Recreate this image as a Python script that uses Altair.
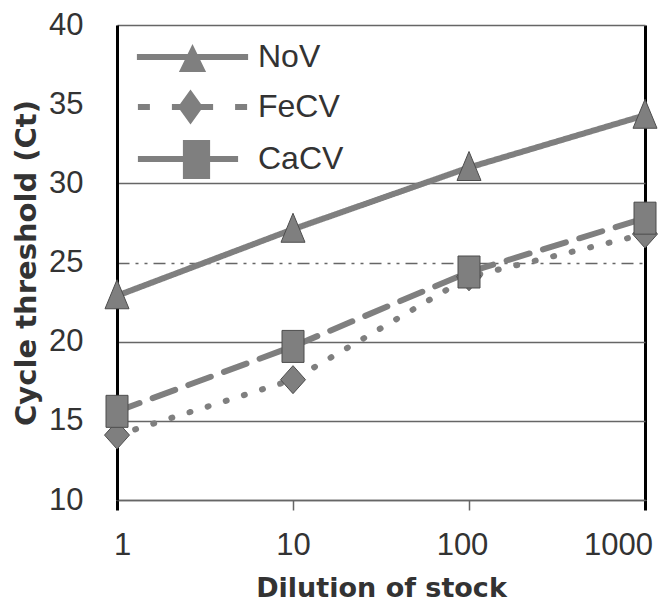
import altair as alt
import pandas as pd

# ---- data ----
dilution = [1, 10, 100, 1000]
series_names = ["NoV", "FeCV", "CaCV"]
nov = [22.9, 27.1, 31.0, 34.3]
fecv = [14.1, 17.6, 24.1, 26.8]
cacv = [15.6, 19.7, 24.4, 27.8]
x_ticks = [1, 10, 100, 1000]
y_ticks = [10, 15, 20, 25, 30, 35, 40]

rows = []
for name, vals in zip(series_names, [nov, fecv, cacv]):
    for d, v in zip(dilution, vals):
        rows.append({"series": name, "dilution": d, "ct": v})
df = pd.DataFrame(rows)

# ---- styles ----
GRAY = "#7f7f7f"
TEXT = "#333333"
dash_patterns = [[1, 0], [1, 18], [24, 14]]
marker_paths = [
    "M0,-1.6L1.2,1.3L-1.2,1.3Z",
    "M0,-1.4L1.25,0L0,1.4L-1.25,0Z",
    "M-1.1,-1.6H1.1V1.6H-1.1Z",
]
legend_paths = [
    "M-2.78,-0.15H2.78V0.15H-2.78Z M0,-0.65L0.68,0.75L-0.68,0.75Z",
    "M-2.73,-0.15H-2.13V0.15H-2.73Z M-1.03,-0.15H1.03V0.15H-1.03Z "
    "M-0.1,-0.87L0.53,0L-0.1,0.87L-0.73,0Z M2.13,-0.15H2.73V0.15H2.13Z",
    "M-2.73,-0.15H-0.48V0.15H-2.73Z M-0.48,-0.95H0.88V1.0H-0.48Z "
    "M0.88,-0.15H2.28V0.15H0.88Z",
]

x_enc = alt.X(
    "dilution:Q",
    title="Dilution of stock",
    scale=alt.Scale(type="log", domain=[1, 1000], nice=False),
    axis=alt.Axis(
        values=x_ticks,
        format="d",
        labelFont="Liberation Sans",
        labelFontSize=31,
        labelColor=TEXT,
        labelPadding=20,
        labelFlush=False,
        labelOffset={
            "condition": [
                {"test": "datum.value === 1000", "value": -27},
                {"test": "datum.value === 100", "value": -7},
                {"test": "datum.value === 1", "value": 5},
            ],
            "value": 0,
        },
        tickSize=10,
        tickColor={
            "condition": {"test": "datum.value === 1 || datum.value === 1000", "value": "black"},
            "value": "#666666",
        },
        tickWidth={
            "condition": {"test": "datum.value === 1 || datum.value === 1000", "value": 3},
            "value": 1.5,
        },
        domainColor="#666666",
        domainWidth=1.5,
        grid=True,
        gridColor="black",
        gridWidth=3,
        gridOpacity={"condition": {"test": "datum.value === 1000", "value": 1}, "value": 0},
        titleFont="DejaVu Sans",
        titleFontSize=27,
        titleFontWeight="bold",
        titleColor=TEXT,
        titlePadding=15,
    ),
)

y_enc = alt.Y(
    "ct:Q",
    title="Cycle threshold (Ct)",
    scale=alt.Scale(domain=[10, 40], nice=False, zero=False),
    axis=alt.Axis(
        values=y_ticks,
        labelFont="Liberation Sans",
        labelFontSize=31,
        labelColor=TEXT,
        labelPadding=34,
        ticks=False,
        tickSize=0,
        domainColor="black",
        domainWidth=3,
        grid=True,
        gridColor="#666666",
        gridWidth=1.5,
        gridDash={"condition": {"test": "datum.value === 25", "value": [12, 6, 3, 6, 3, 6]}, "value": []},
        gridOpacity={"condition": {"test": "datum.value === 35", "value": 0}, "value": 1},
        titleFont="DejaVu Sans",
        titleFontSize=29,
        titleFontWeight="bold",
        titleColor=TEXT,
        titlePadding=7,
    ),
)

lines = alt.Chart(df).mark_line(color=GRAY, strokeWidth=6, strokeCap="round").encode(
    x=x_enc,
    y=y_enc,
    strokeDash=alt.StrokeDash(
        "series:N", scale=alt.Scale(domain=series_names, range=dash_patterns), legend=None
    ),
)

markers = alt.Chart(df).mark_point(
    filled=True, fill=GRAY, stroke="#4d4d4d", strokeWidth=1, opacity=1, size=400
).encode(
    x=x_enc,
    y=y_enc,
    shape=alt.Shape(
        "series:N", scale=alt.Scale(domain=series_names, range=marker_paths), legend=None
    ),
)

legend_layer = (
    alt.Chart(df)
    .transform_filter("false")
    .mark_point(filled=True, fill=GRAY, opacity=1, size=100)
    .encode(
        x=x_enc,
        y=y_enc,
        shape=alt.Shape(
            "series:N",
            scale=alt.Scale(domain=series_names, range=legend_paths),
            legend=alt.Legend(
                orient="none",
                legendX=55.5,
                legendY=12,
                title=None,
                padding=0,
                symbolSize=1600,
                symbolStrokeWidth=0,
                symbolFillColor=GRAY,
                symbolOpacity=1,
                labelFont="Liberation Sans",
                labelFontSize=32,
                labelColor=TEXT,
                labelOffset=45.5,
                rowPadding=14,
            ),
        ),
    )
)

chart = (
    alt.layer(lines, markers, legend_layer)
    .resolve_scale(shape="independent")
    .properties(
        width=528,
        height=475,
        padding={"left": 109, "top": 17, "right": 13, "bottom": 114},
        autosize=alt.AutoSizeParams(type="none"),
        background="white",
    )
    .configure_view(stroke=None)
)

chart.save("out.html", embed_options={"renderer": "svg", "actions": False})
